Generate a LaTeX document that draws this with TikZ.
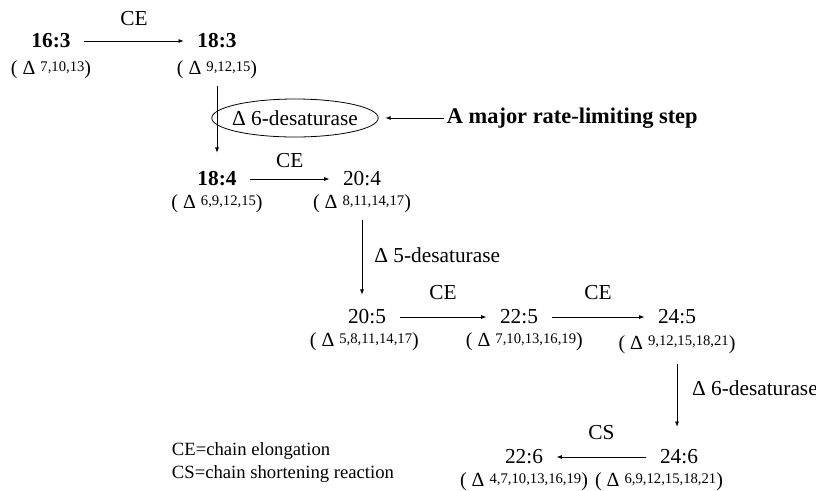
\documentclass[tikz,border=0pt]{standalone}
\usepackage{fontspec}
\setmainfont{Liberation Serif}
\usepackage{tikz}
\usetikzlibrary{arrows.meta, positioning, shapes.geometric}
\newcommand{\dbonds}[1]{( Δ \raisebox{2.5pt}{\fontsize{11}{13}\selectfont #1})}

\begin{document}
\begin{tikzpicture}[
  x=0.75pt, y=-0.75pt,
  font=\fontsize{16}{19}\selectfont,
  acid/.style={inner sep=2pt},
  keyacid/.style={inner sep=2pt, font=\fontsize{16}{19}\selectfont\bfseries},
  bonds/.style={inner sep=1pt, font=\fontsize{15}{18}\selectfont},
  lab/.style={inner sep=1pt},
  legend/.style={inner sep=2pt, anchor=west, font=\fontsize{14}{17}\selectfont},
  rxn/.style={->, line width=0.6pt, shorten <=8pt, shorten >=8pt},
  desat/.style={->, line width=0.6pt},
  >={Latex[length=4pt, width=3pt]},
  node distance=3pt,
]
\useasboundingbox (0,0) rectangle (816,490);

% fatty acids
\node[keyacid] (c163) at (51,41) {16:3};
\node[keyacid] (c183) at (217,41) {18:3};
\node[keyacid] (c184) at (217,179) {18:4};
\node[acid] (c204) at (362,179) {20:4};
\node[acid] (c205) at (367,317) {20:5};
\node[acid] (c225) at (519,317) {22:5};
\node[acid] (c245) at (677,317) {24:5};
\node[acid] (c246) at (679,457) {24:6};
\node[acid] (c226) at (524,457) {22:6};

% double bond positions
\node[bonds, below=6pt of c163] (b163) {\dbonds{7,10,13}};
\node[bonds, below=6pt of c183] (b183) {\dbonds{9,12,15}};
\node[bonds, below=of c184] (b184) {\dbonds{6,9,12,15}};
\node[bonds, below=of c204] (b204) {\dbonds{8,11,14,17}};
\node[bonds, below=of c205, xshift=-2pt] (b205) {\dbonds{5,8,11,14,17}};
\node[bonds, below=of c225, xshift=4pt] (b225) {\dbonds{7,10,13,16,19}};
\node[bonds, below=5pt of c245] (b245) {\dbonds{9,12,15,18,21}};
\node[bonds, below=of c226] (b226) {\dbonds{4,7,10,13,16,19}};
\node[bonds, below=of c246, xshift=-15pt] (b246) {\dbonds{6,9,12,15,18,21}};

% enzymes
\node[draw, ellipse, line width=0.6pt, inner xsep=-3pt, minimum height=28.5pt]
  (d6a) at (295,118) {Δ 6-desaturase};
\node[anchor=west, inner sep=2pt, font=\fontsize{16.8}{20}\selectfont\bfseries]
  (note) at (444,118) {A major rate-limiting step};

\draw[rxn] (c163) -- node[above=10pt, lab] {CE} (c183);
\draw[desat, shorten <=4pt, shorten >=12pt] (b183) -- (c184);
\draw[desat, shorten >=5pt] (note) -- (d6a);
\draw[rxn] (c184) -- node[above=7pt, lab] {CE} (c204);
\draw[desat, shorten <=4pt, shorten >=9pt] (b204) -- (b204 |- c205.north)
  node[pos=0.44, right=8pt, lab] {Δ 5-desaturase};
\draw[rxn] (c205) -- node[above=12pt, lab] {CE} (c225);
\draw[rxn] (c225) -- node[above=12pt, lab] {CE} (c245);
\draw[desat, shorten <=7pt, shorten >=15pt] (b245) -- (b245 |- c246.north)
  node[pos=0.36, right=10pt, lab] {Δ 6-desaturase};
\draw[rxn] (c246) -- node[above=12pt, lab] {CS} (c226);

% key
\node[legend] (keyce) at (169,451) {CE=chain elongation};
\node[legend] (keycs) at (169,474) {CS=chain shortening reaction};
\end{tikzpicture}
\end{document}
